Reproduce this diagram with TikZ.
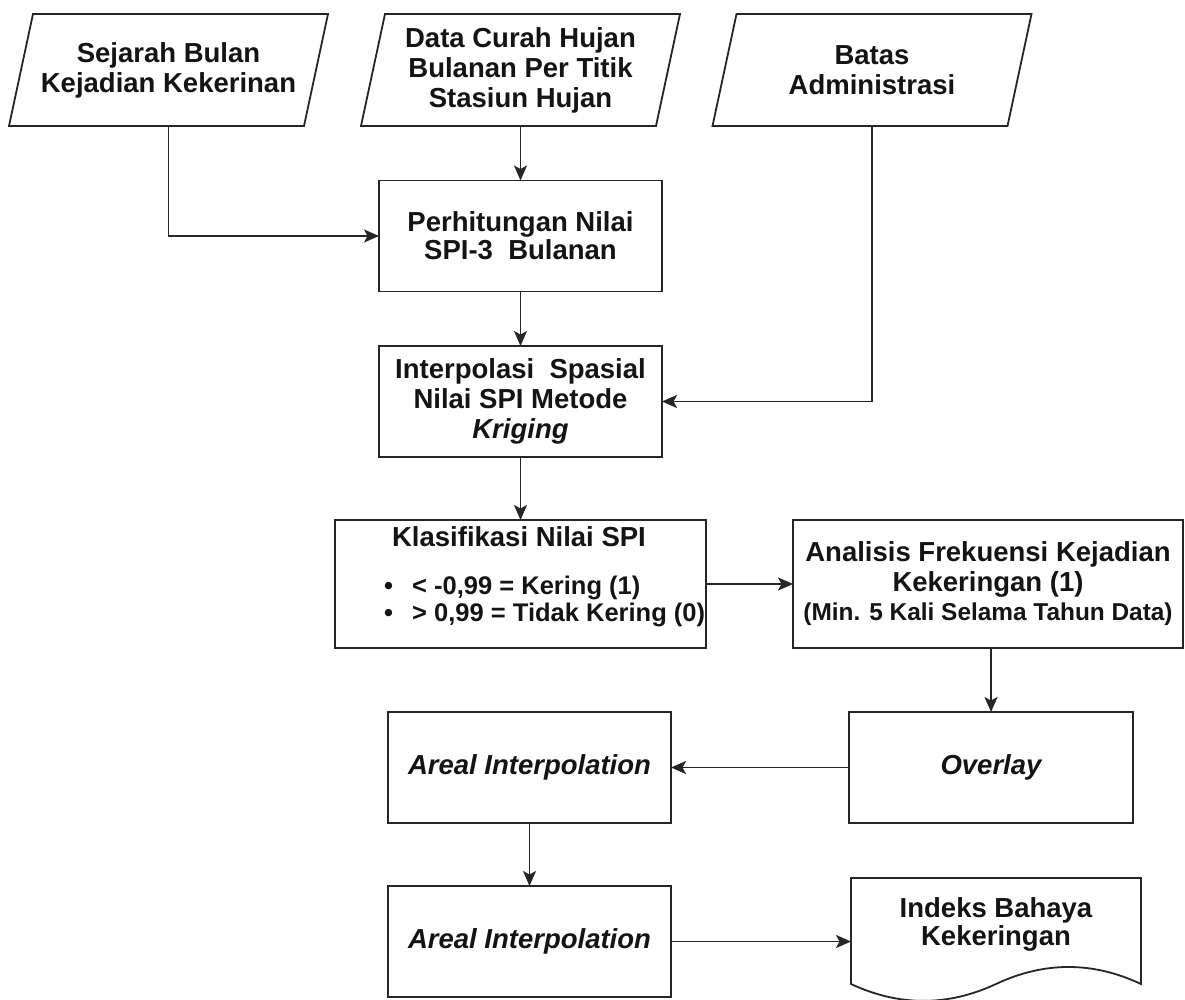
\documentclass[tikz,border=0pt]{standalone}
\usepackage{fontspec}
\setmainfont{Liberation Sans}
\usetikzlibrary{arrows.meta}

% slanted input/output frame drawn around a named node
\newcommand\slantframe[1]{%
  \draw[line] ([xshift=12pt]#1.north west) -- ([xshift=12pt]#1.north east)
    -- ([xshift=-12pt]#1.south east) -- ([xshift=-12pt]#1.south west) -- cycle;}

\begin{document}
\begin{tikzpicture}[x=1pt,y=-1pt,
  line/.style={draw=black!85, line width=1.8pt},
  arr/.style={line, -{Stealth[length=15pt,width=13pt,inset=3.5pt]}},
  txt/.style={font=\fontsize{27.5}{30}\selectfont\bfseries, align=center, text=black!92},
  bullet/.style={font=\fontsize{25.5}{27}\selectfont\bfseries, text=black!92,
                 anchor=base west, inner sep=0pt},
  procbox/.style={txt, line, rectangle, inner sep=0pt, outer sep=0pt,
                  minimum width=283pt, minimum height=111pt},
  iobox/.style={txt, rectangle, inner sep=0pt, outer sep=0pt,
                minimum width=295pt, minimum height=112pt},
]
\fill[white] (0,0) rectangle (1185,1000);
\useasboundingbox (0,0) rectangle (1185,1000);

% inputs
\node[iobox] (hist)  at (168.5,70) {Sejarah Bulan\\Kejadian Kekerinan};
\node[iobox] (rain)  at (520.5,70) {Data Curah Hujan\\Bulanan Per Titik\\Stasiun Hujan};
\node[iobox] (admin) at (872,70)   {Batas\\Administrasi};
\slantframe{hist}
\slantframe{rain}
\slantframe{admin}

% processing steps
\node[procbox] (spi) at (520.5,236) {Perhitungan Nilai\\[-2pt]SPI-3\ \ Bulanan};
\node[procbox] (krig) at (520.5,401.5) {Interpolasi\ \ Spasial\\[-0.5pt]Nilai SPI Metode\\{\itshape Kriging}};

\node[procbox, minimum width=371pt, minimum height=128pt] (cls) at (520.5,584) {};
\node[txt, anchor=base, inner sep=0pt] (clsT) at (519,546) {Klasifikasi Nilai SPI};
\node[bullet] (clsA) at (384,594) {\makebox[28pt][l]{•}< -0,99 = Kering (1)};
\node[bullet] (clsB) at (384,621) {\makebox[28pt][l]{•}> 0,99 = Tidak Kering (0)};

\node[procbox, minimum width=390pt, minimum height=128pt] (freq) at (988,584)
  {Analisis Frekuensi Kejadian\\Kekeringan (1)\\[-1pt]{\fontsize{24.4}{28}\selectfont (Min. 5 Kali Selama Tahun Data)}};

\node[procbox, minimum width=284pt] (ovl) at (991,767.5) {\itshape Overlay};
\node[procbox] (ar1) at (529.5,767.5) {\itshape Areal Interpolation};
\node[procbox] (ar2) at (529.5,941.5) {\itshape Areal Interpolation};

% output document
\node[txt, rectangle, inner sep=0pt, outer sep=0pt, minimum width=290pt, minimum height=93pt]
  (idx) at (996,924.5) {Indeks Bahaya\\[-2pt]Kekeringan};
\draw[line] (idx.north west) -- (idx.north east) -- (1141,984)
  .. controls (1092.7,961.3) and (1044.3,961.3) .. (996,984)
  .. controls (947.7,1006.5) and (899.3,1006.5) .. (851,984) -- cycle;

% connectors
\draw[arr] (hist.south) |- (spi.west);
\draw[arr] (rain.south) -- (spi.north);
\draw[arr] (spi.south) -- (krig.north);
\draw[arr] (admin.south) |- (krig.east);
\draw[arr] (krig.south) -- (cls.north);
\draw[arr] (cls.east) -- (freq.west);
\draw[arr] (freq.south -| ovl.north) -- (ovl.north);
\draw[arr] (ovl.west) -- (ar1.east);
\draw[arr] (ar1.south) -- (ar2.north);
\draw[arr] (ar2.east) -- (ar2.east -| idx.west);
\end{tikzpicture}
\end{document}
